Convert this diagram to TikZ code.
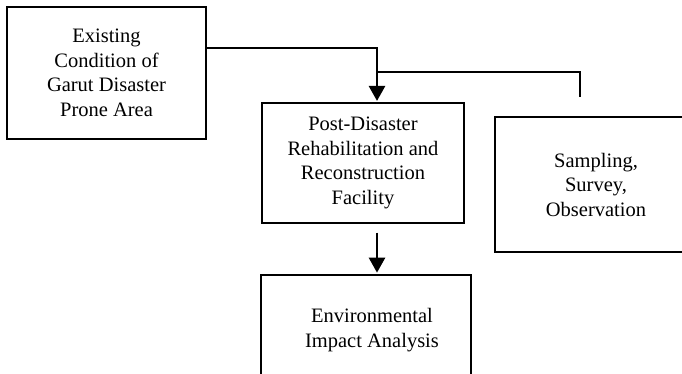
\documentclass[tikz,border=0pt]{standalone}
\usepackage{fontspec}
\setmainfont{Liberation Serif}
\usetikzlibrary{arrows.meta,calc}
\begin{document}
\begin{tikzpicture}[x=1pt,y=-1pt,
  box/.style={draw=black,rectangle,align=center,inner sep=0pt,
    font=\fontsize{20.5pt}{24.5pt}\selectfont},
  thinbox/.style={box,line width=1.1pt},
  heavybox/.style={box,line width=1.7pt},
  flowarrow/.style={line width=2.6pt,-{Triangle[width=16pt,length=15pt]}},
  branch/.style={line width=1.3pt}]
\useasboundingbox (0,0) rectangle (682,374);
\clip (0,0) rectangle (682,374);
\node[thinbox,minimum width=199pt,minimum height=132pt] (A) at (106.5,73)
  {Existing\\Condition of\\Garut Disaster\\Prone Area};
\node[thinbox,minimum width=202pt,minimum height=120pt] (B) at (363,163)
  {Post-Disaster\\Rehabilitation and\\Reconstruction\\Facility};
\node[heavybox,minimum width=202pt,minimum height=135pt] (C) at (596,184.5)
  {Sampling,\\Survey,\\Observation};
\node[heavybox,minimum width=210pt,minimum height=110pt] (D) at (366,330)
  {\hspace*{12pt}Environmental\\\hspace*{12pt}Impact Analysis};
\coordinate (j1) at (377,48);
\coordinate (j2) at (377,72);
\coordinate (e) at (580,97);
\draw[flowarrow,shorten >=1.5pt] (A.east |- j1) -| (B.north -| j1);
\draw[branch] (j2) -| (e);
\draw[flowarrow,shorten >=1.5pt] ([yshift=-9pt]B.south -| j1) -- (D.north -| j1);
\end{tikzpicture}
\end{document}
